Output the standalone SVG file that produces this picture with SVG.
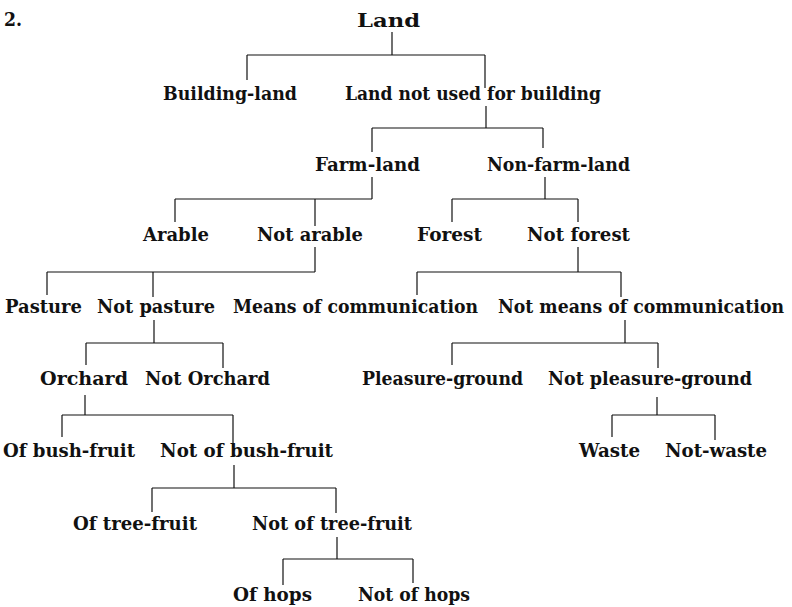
<svg xmlns="http://www.w3.org/2000/svg" width="792" height="607" viewBox="0 0 792 607">
<style>
text{font-family:"DejaVu Serif","Liberation Serif",serif;font-size:18px;font-weight:bold;fill:#111}
#connectors line{stroke:#111;stroke-width:1.2;fill:none}
</style>
<rect width="792" height="607" fill="#fff"/>
<text x="4" y="26" textLength="18" lengthAdjust="spacingAndGlyphs">2.</text>
<g id="connectors">
<line x1="392" y1="32" x2="392" y2="55"/><line x1="247" y1="55" x2="485" y2="55"/><line x1="247" y1="55" x2="247" y2="80"/><line x1="485" y1="55" x2="485" y2="88"/>
<line x1="486" y1="106" x2="486" y2="128"/><line x1="372" y1="128" x2="543" y2="128"/><line x1="372" y1="128" x2="372" y2="152"/><line x1="543" y1="128" x2="543" y2="148"/>
<line x1="372" y1="177" x2="372" y2="199"/><line x1="175" y1="199" x2="372" y2="199"/><line x1="175" y1="199" x2="175" y2="222"/><line x1="315" y1="199" x2="315" y2="226"/>
<line x1="545" y1="177" x2="545" y2="199"/><line x1="452" y1="199" x2="578" y2="199"/><line x1="452" y1="199" x2="452" y2="222"/><line x1="578" y1="199" x2="578" y2="222"/>
<line x1="315" y1="247" x2="315" y2="272"/><line x1="47" y1="272" x2="315" y2="272"/><line x1="47" y1="272" x2="47" y2="295"/><line x1="153" y1="272" x2="153" y2="297"/>
<line x1="578" y1="247" x2="578" y2="272"/><line x1="417" y1="272" x2="621" y2="272"/><line x1="417" y1="272" x2="417" y2="295"/><line x1="621" y1="272" x2="621" y2="297"/>
<line x1="154" y1="320" x2="154" y2="343"/><line x1="86" y1="343" x2="223" y2="343"/><line x1="86" y1="343" x2="86" y2="365"/><line x1="223" y1="343" x2="223" y2="368"/>
<line x1="625" y1="320" x2="625" y2="343"/><line x1="452" y1="343" x2="658" y2="343"/><line x1="452" y1="343" x2="452" y2="365"/><line x1="658" y1="343" x2="658" y2="368"/>
<line x1="85" y1="395" x2="85" y2="415"/><line x1="62" y1="415" x2="233" y2="415"/><line x1="62" y1="415" x2="62" y2="437"/><line x1="233" y1="415" x2="233" y2="447"/>
<line x1="657" y1="397" x2="657" y2="415"/><line x1="612" y1="415" x2="715" y2="415"/><line x1="612" y1="415" x2="612" y2="437"/><line x1="715" y1="415" x2="715" y2="440"/>
<line x1="234" y1="465" x2="234" y2="488"/><line x1="152" y1="488" x2="336" y2="488"/><line x1="152" y1="488" x2="152" y2="512"/><line x1="336" y1="488" x2="336" y2="513"/>
<line x1="337" y1="537" x2="337" y2="559"/><line x1="283" y1="559" x2="413" y2="559"/><line x1="283" y1="559" x2="283" y2="585"/><line x1="413" y1="559" x2="413" y2="583"/>
</g>
<g id="land"><text x="357" y="27" textLength="63" lengthAdjust="spacingAndGlyphs">Land</text></g>
<g id="building-land"><text x="163" y="100" textLength="134" lengthAdjust="spacingAndGlyphs">Building-land</text></g>
<g id="not-building"><text x="345" y="100" textLength="256" lengthAdjust="spacingAndGlyphs">Land not used for building</text></g>
<g id="farm-land"><text x="315" y="171" textLength="105" lengthAdjust="spacingAndGlyphs">Farm-land</text></g>
<g id="non-farm-land"><text x="487" y="171" textLength="143" lengthAdjust="spacingAndGlyphs">Non-farm-land</text></g>
<g id="arable"><text x="143" y="241" textLength="66" lengthAdjust="spacingAndGlyphs">Arable</text></g>
<g id="not-arable"><text x="257" y="241" textLength="106" lengthAdjust="spacingAndGlyphs">Not arable</text></g>
<g id="forest"><text x="417" y="241" textLength="65" lengthAdjust="spacingAndGlyphs">Forest</text></g>
<g id="not-forest"><text x="527" y="241" textLength="103" lengthAdjust="spacingAndGlyphs">Not forest</text></g>
<g id="pasture"><text x="5" y="313" textLength="77" lengthAdjust="spacingAndGlyphs">Pasture</text></g>
<g id="not-pasture"><text x="97" y="313" textLength="118" lengthAdjust="spacingAndGlyphs">Not pasture</text></g>
<g id="means"><text x="233" y="313" textLength="245" lengthAdjust="spacingAndGlyphs">Means of communication</text></g>
<g id="not-means"><text x="498" y="313" textLength="286" lengthAdjust="spacingAndGlyphs">Not means of communication</text></g>
<g id="orchard"><text x="40" y="385" textLength="88" lengthAdjust="spacingAndGlyphs">Orchard</text></g>
<g id="not-orchard"><text x="145" y="385" textLength="125" lengthAdjust="spacingAndGlyphs">Not Orchard</text></g>
<g id="pleasure"><text x="362" y="385" textLength="161" lengthAdjust="spacingAndGlyphs">Pleasure-ground</text></g>
<g id="not-pleasure"><text x="548" y="385" textLength="204" lengthAdjust="spacingAndGlyphs">Not pleasure-ground</text></g>
<g id="bush"><text x="3" y="457" textLength="132" lengthAdjust="spacingAndGlyphs">Of bush-fruit</text></g>
<g id="not-bush"><text x="160" y="457" textLength="173" lengthAdjust="spacingAndGlyphs">Not of bush-fruit</text></g>
<g id="waste"><text x="579" y="457" textLength="61" lengthAdjust="spacingAndGlyphs">Waste</text></g>
<g id="not-waste"><text x="665" y="457" textLength="102" lengthAdjust="spacingAndGlyphs">Not-waste</text></g>
<g id="tree"><text x="73" y="530" textLength="124" lengthAdjust="spacingAndGlyphs">Of tree-fruit</text></g>
<g id="not-tree"><text x="252" y="530" textLength="160" lengthAdjust="spacingAndGlyphs">Not of tree-fruit</text></g>
<g id="hops"><text x="233" y="601" textLength="79" lengthAdjust="spacingAndGlyphs">Of hops</text></g>
<g id="not-hops"><text x="358" y="601" textLength="112" lengthAdjust="spacingAndGlyphs">Not of hops</text></g>
</svg>
